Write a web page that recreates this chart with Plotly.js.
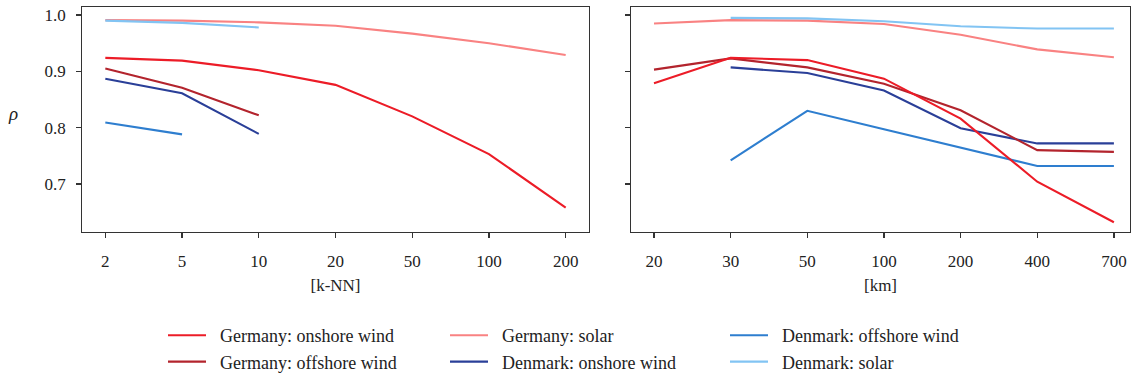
<!DOCTYPE html>
<html>
<head>
<meta charset="utf-8">
<script src="https://cdn.plot.ly/plotly-3.0.1.min.js"></script>
<style>
  html, body { margin: 0; padding: 0; background: #fff; }
  #chart { width: 1132px; height: 380px; }
</style>
</head>
<body>
<div id="chart"></div>
<script>
// Neighbourhood sizes (left) and radii in km (right)
const kNN = ["2", "5", "10", "20", "50", "100", "200"];
const km  = ["20", "30", "50", "100", "200", "400", "700"];

// Correlation rho for each neighbourhood size (k-NN)
const knnGermanyOnshore  = [0.924, 0.919, 0.902, 0.876, 0.820, 0.753, 0.658];
const knnGermanyOffshore = [0.905, 0.871, 0.822];
const knnGermanySolar    = [0.991, 0.990, 0.987, 0.981, 0.967, 0.950, 0.929];
const knnDenmarkOnshore  = [0.887, 0.861, 0.789];
const knnDenmarkOffshore = [0.809, 0.788];
const knnDenmarkSolar    = [0.990, 0.986, 0.978];

// Correlation rho for each radius (km); Denmark series start at 30 km
const kmGermanyOnshore  = [0.879, 0.924, 0.920, 0.887, 0.816, 0.704, 0.632];
const kmGermanyOffshore = [0.903, 0.923, 0.907, 0.878, 0.831, 0.760, 0.757];
const kmGermanySolar    = [0.985, 0.991, 0.990, 0.984, 0.965, 0.939, 0.925];
const kmDenmarkOnshore  = [0.907, 0.897, 0.866, 0.799, 0.772, 0.772];
const kmDenmarkOffshore = [0.742, 0.830, 0.797, 0.765, 0.732, 0.732];
const kmDenmarkSolar    = [0.995, 0.994, 0.989, 0.980, 0.976, 0.976];

const yTicks = [0.7, 0.8, 0.9, 1.0];

const colors = {
  deOn:  "#ec1c27",
  deOff: "#b3242d",
  deSol: "#f98282",
  dkOn:  "#2a3f98",
  dkOff: "#2e7ecf",
  dkSol: "#82c4f3"
};

const FONT = "Liberation Serif";
const INK = "#333333";
const TEXT = "#222222";
const PAD = "\u00a0\u00a0";   // space between legend line and label

function line(x, y, color, name, xa, ya, legend, show) {
  return {
    type: "scatter", mode: "lines",
    x: x, y: y, name: show ? PAD + name : name,
    xaxis: xa, yaxis: ya,
    line: { color: color, width: 2.1 },
    showlegend: show, legend: legend,
    hoverinfo: "skip"
  };
}

const traces = [
  // left panel (these carry the legend entries)
  line(kNN, knnGermanyOnshore, colors.deOn, "Germany: onshore wind", "x", "y", "legend", true),
  line(kNN.slice(0, knnGermanyOffshore.length), knnGermanyOffshore, colors.deOff, "Germany: offshore wind", "x", "y", "legend", true),
  line(kNN, knnGermanySolar, colors.deSol, "Germany: solar", "x", "y", "legend2", true),
  line(kNN.slice(0, knnDenmarkOnshore.length), knnDenmarkOnshore, colors.dkOn, "Denmark: onshore wind", "x", "y", "legend2", true),
  line(kNN.slice(0, knnDenmarkOffshore.length), knnDenmarkOffshore, colors.dkOff, "Denmark: offshore wind", "x", "y", "legend3", true),
  line(kNN.slice(0, knnDenmarkSolar.length), knnDenmarkSolar, colors.dkSol, "Denmark: solar", "x", "y", "legend3", true),
  // right panel
  line(km, kmGermanySolar, colors.deSol, "Germany: solar", "x2", "y2", "legend", false),
  line(km.slice(1), kmDenmarkSolar, colors.dkSol, "Denmark: solar", "x2", "y2", "legend", false),
  line(km.slice(1), kmDenmarkOffshore, colors.dkOff, "Denmark: offshore wind", "x2", "y2", "legend", false),
  line(km.slice(1), kmDenmarkOnshore, colors.dkOn, "Denmark: onshore wind", "x2", "y2", "legend", false),
  line(km, kmGermanyOffshore, colors.deOff, "Germany: offshore wind", "x2", "y2", "legend", false),
  line(km, kmGermanyOnshore, colors.deOn, "Germany: onshore wind", "x2", "y2", "legend", false)
];

const W = 1132, H = 380;
const px = v => v / W;
const py = v => (H - v) / H;

const yRange = [0.6145, 1.0143];

function xAxis(cats, range, domain, title, anchor) {
  return {
    type: "category", categoryorder: "array", categoryarray: cats,
    range: range, domain: domain, anchor: anchor,
    showgrid: false, zeroline: false,
    showline: true, mirror: true, linecolor: INK, linewidth: 1.2,
    ticks: "outside", ticklen: 5, tickwidth: 1.2, tickcolor: INK,
    ticklabelstandoff: 8,
    tickfont: { family: FONT, size: 17, color: TEXT },
    title: { text: title, font: { family: FONT, size: 17, color: TEXT }, standoff: 9 },
    fixedrange: true
  };
}

function yAxis(domain, anchor, labels) {
  return {
    range: yRange, domain: domain, anchor: anchor,
    tickvals: yTicks, tickformat: ".1f", showticklabels: labels,
    showgrid: false, zeroline: false,
    showline: true, mirror: true, linecolor: INK, linewidth: 1.2,
    ticks: "outside", ticklen: 5, tickwidth: 1.2, tickcolor: INK,
    ticklabelstandoff: 7,
    tickfont: { family: FONT, size: 17, color: TEXT },
    fixedrange: true
  };
}

const yDom = [py(242.3), py(7.3)];

function legendBox(xPix) {
  return {
    x: px(xPix), xanchor: "left",
    y: py(331), yanchor: "top",
    orientation: "v",
    bgcolor: "rgba(0,0,0,0)", borderwidth: 0,
    itemwidth: 38,
    font: { family: FONT, size: 18, color: TEXT },
    traceorder: "normal"
  };
}

const layout = {
  width: W, height: H,
  margin: { l: 0, r: 0, t: 0, b: 0 },
  paper_bgcolor: "#ffffff", plot_bgcolor: "#ffffff",
  xaxis:  xAxis(kNN, [-0.3, 6.3], [px(82.3), px(588.7)], "[k-NN]", "y"),
  yaxis:  yAxis(yDom, "x", true),
  xaxis2: xAxis(km, [-0.3, 6.21], [px(631), px(1130)], "[km]", "y2"),
  yaxis2: yAxis(yDom, "x2", false),
  legend:  legendBox(163),
  legend2: legendBox(445),
  legend3: legendBox(725),
  annotations: [{
    text: "<i>ρ</i>", xref: "paper", yref: "paper",
    x: px(13), y: py(118), xanchor: "center", yanchor: "middle",
    showarrow: false, font: { family: FONT, size: 19, color: TEXT }
  }]
};

Plotly.newPlot("chart", traces, layout, { displayModeBar: false, staticPlot: true });
</script>
</body>
</html>
